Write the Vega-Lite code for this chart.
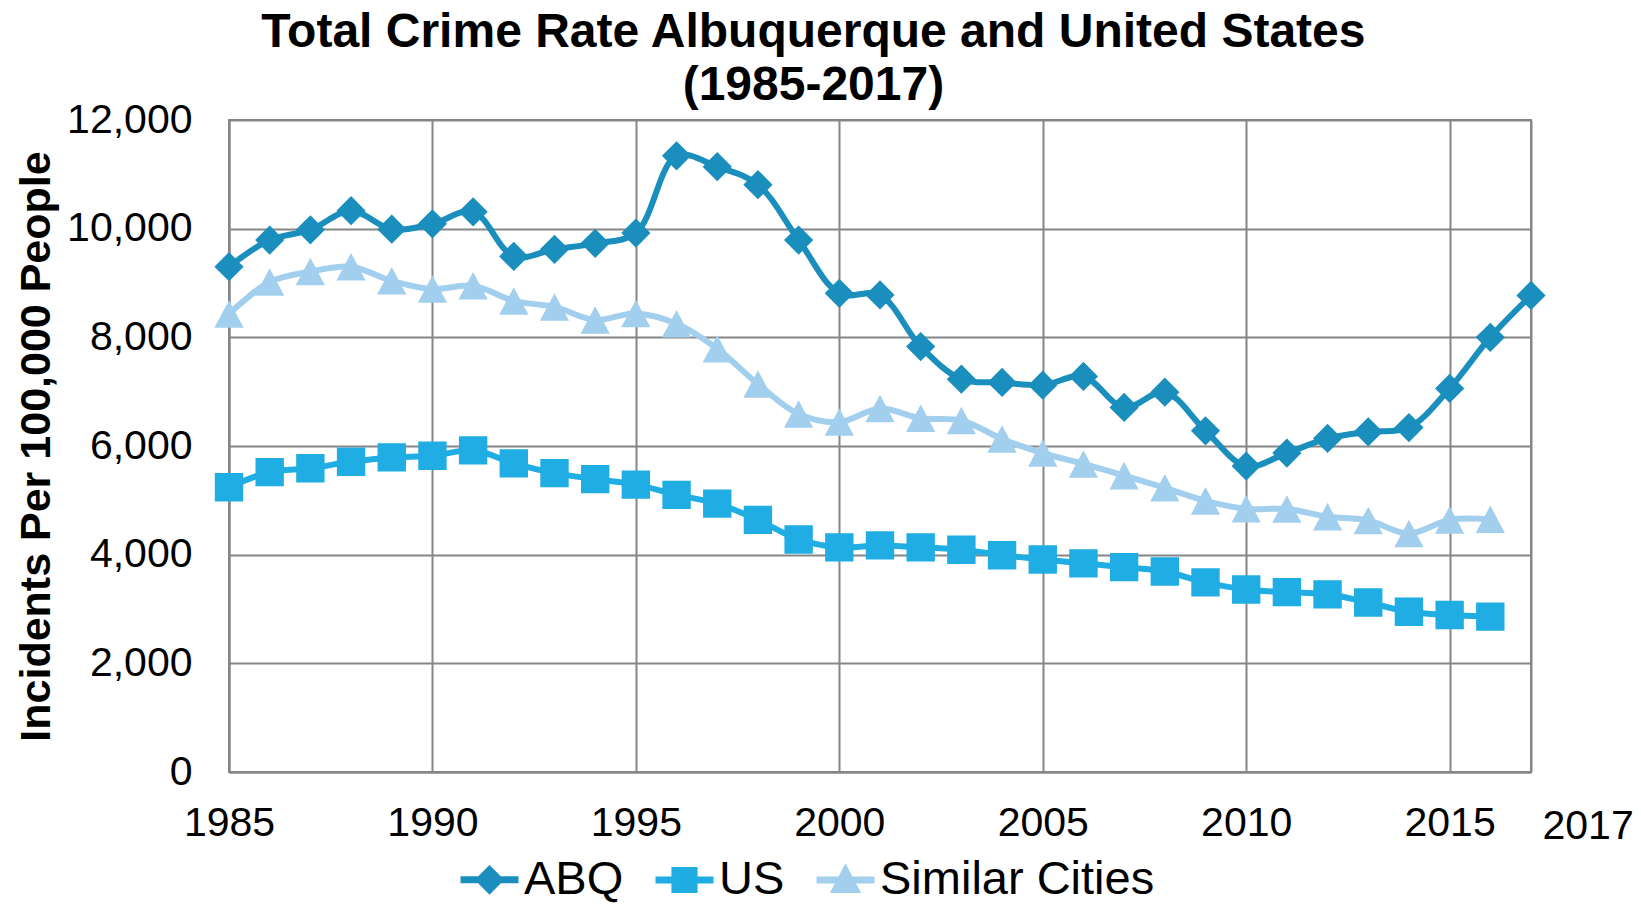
{
  "$schema": "https://vega.github.io/schema/vega-lite/v6.json",
  "width": 1302,
  "height": 652,
  "autosize": {"type": "pad"},
  "padding": {"left": 15, "top": 9, "right": 0, "bottom": 0},
  "background": "white",
  "config": {
    "font": "Liberation Sans",
    "view": {"stroke": "#868686", "strokeWidth": 2}
  },
  "title": {
    "text": ["Total Crime Rate Albuquerque and United States", "(1985-2017)"],
    "font": "Liberation Sans",
    "fontSize": 48,
    "fontWeight": "bold",
    "color": "black",
    "lineHeight": 53,
    "anchor": "middle",
    "frame": "bounds",
    "dx": -11,
    "offset": -11
  },
  "data": {
    "values": [
      {"year": 1985, "series": "ABQ", "value": 9300},
      {"year": 1986, "series": "ABQ", "value": 9790},
      {"year": 1987, "series": "ABQ", "value": 9980},
      {"year": 1988, "series": "ABQ", "value": 10330},
      {"year": 1989, "series": "ABQ", "value": 9990},
      {"year": 1990, "series": "ABQ", "value": 10090},
      {"year": 1991, "series": "ABQ", "value": 10310},
      {"year": 1992, "series": "ABQ", "value": 9490},
      {"year": 1993, "series": "ABQ", "value": 9620},
      {"year": 1994, "series": "ABQ", "value": 9730},
      {"year": 1995, "series": "ABQ", "value": 9920},
      {"year": 1996, "series": "ABQ", "value": 11340},
      {"year": 1997, "series": "ABQ", "value": 11140},
      {"year": 1998, "series": "ABQ", "value": 10810},
      {"year": 1999, "series": "ABQ", "value": 9790},
      {"year": 2000, "series": "ABQ", "value": 8810},
      {"year": 2001, "series": "ABQ", "value": 8780},
      {"year": 2002, "series": "ABQ", "value": 7830},
      {"year": 2003, "series": "ABQ", "value": 7230},
      {"year": 2004, "series": "ABQ", "value": 7170},
      {"year": 2005, "series": "ABQ", "value": 7120},
      {"year": 2006, "series": "ABQ", "value": 7280},
      {"year": 2007, "series": "ABQ", "value": 6710},
      {"year": 2008, "series": "ABQ", "value": 6990},
      {"year": 2009, "series": "ABQ", "value": 6280},
      {"year": 2010, "series": "ABQ", "value": 5630},
      {"year": 2011, "series": "ABQ", "value": 5870},
      {"year": 2012, "series": "ABQ", "value": 6140},
      {"year": 2013, "series": "ABQ", "value": 6260},
      {"year": 2014, "series": "ABQ", "value": 6340},
      {"year": 2015, "series": "ABQ", "value": 7060},
      {"year": 2016, "series": "ABQ", "value": 8000},
      {"year": 2017, "series": "ABQ", "value": 8770},
      {"year": 1985, "series": "US", "value": 5240},
      {"year": 1986, "series": "US", "value": 5520},
      {"year": 1987, "series": "US", "value": 5590},
      {"year": 1988, "series": "US", "value": 5710},
      {"year": 1989, "series": "US", "value": 5790},
      {"year": 1990, "series": "US", "value": 5820},
      {"year": 1991, "series": "US", "value": 5920},
      {"year": 1992, "series": "US", "value": 5680},
      {"year": 1993, "series": "US", "value": 5500},
      {"year": 1994, "series": "US", "value": 5390},
      {"year": 1995, "series": "US", "value": 5290},
      {"year": 1996, "series": "US", "value": 5100},
      {"year": 1997, "series": "US", "value": 4940},
      {"year": 1998, "series": "US", "value": 4640},
      {"year": 1999, "series": "US", "value": 4280},
      {"year": 2000, "series": "US", "value": 4135},
      {"year": 2001, "series": "US", "value": 4170},
      {"year": 2002, "series": "US", "value": 4135},
      {"year": 2003, "series": "US", "value": 4090},
      {"year": 2004, "series": "US", "value": 3990},
      {"year": 2005, "series": "US", "value": 3910},
      {"year": 2006, "series": "US", "value": 3840},
      {"year": 2007, "series": "US", "value": 3770},
      {"year": 2008, "series": "US", "value": 3690},
      {"year": 2009, "series": "US", "value": 3490},
      {"year": 2010, "series": "US", "value": 3360},
      {"year": 2011, "series": "US", "value": 3310},
      {"year": 2012, "series": "US", "value": 3270},
      {"year": 2013, "series": "US", "value": 3120},
      {"year": 2014, "series": "US", "value": 2950},
      {"year": 2015, "series": "US", "value": 2890},
      {"year": 2016, "series": "US", "value": 2860},
      {"year": 1985, "series": "Similar Cities", "value": 8430},
      {"year": 1986, "series": "Similar Cities", "value": 9020},
      {"year": 1987, "series": "Similar Cities", "value": 9210},
      {"year": 1988, "series": "Similar Cities", "value": 9300},
      {"year": 1989, "series": "Similar Cities", "value": 9040},
      {"year": 1990, "series": "Similar Cities", "value": 8890},
      {"year": 1991, "series": "Similar Cities", "value": 8950},
      {"year": 1992, "series": "Similar Cities", "value": 8670},
      {"year": 1993, "series": "Similar Cities", "value": 8560},
      {"year": 1994, "series": "Similar Cities", "value": 8320},
      {"year": 1995, "series": "Similar Cities", "value": 8440},
      {"year": 1996, "series": "Similar Cities", "value": 8250},
      {"year": 1997, "series": "Similar Cities", "value": 7790},
      {"year": 1998, "series": "Similar Cities", "value": 7140},
      {"year": 1999, "series": "Similar Cities", "value": 6590},
      {"year": 2000, "series": "Similar Cities", "value": 6440},
      {"year": 2001, "series": "Similar Cities", "value": 6690},
      {"year": 2002, "series": "Similar Cities", "value": 6510},
      {"year": 2003, "series": "Similar Cities", "value": 6470},
      {"year": 2004, "series": "Similar Cities", "value": 6130},
      {"year": 2005, "series": "Similar Cities", "value": 5870},
      {"year": 2006, "series": "Similar Cities", "value": 5670},
      {"year": 2007, "series": "Similar Cities", "value": 5455},
      {"year": 2008, "series": "Similar Cities", "value": 5230},
      {"year": 2009, "series": "Similar Cities", "value": 4990},
      {"year": 2010, "series": "Similar Cities", "value": 4845},
      {"year": 2011, "series": "Similar Cities", "value": 4840},
      {"year": 2012, "series": "Similar Cities", "value": 4700},
      {"year": 2013, "series": "Similar Cities", "value": 4630},
      {"year": 2014, "series": "Similar Cities", "value": 4390},
      {"year": 2015, "series": "Similar Cities", "value": 4640},
      {"year": 2016, "series": "Similar Cities", "value": 4650}
    ]
  },
  "encoding": {
    "x": {
      "field": "year",
      "type": "quantitative",
      "scale": {"domain": [1985, 2017], "nice": false, "zero": false},
      "axis": {
        "title": null,
        "values": [1985, 1990, 1995, 2000, 2005, 2010, 2015, 2017],
        "format": "d",
        "labelFont": "Liberation Sans",
        "labelFontSize": 41,
        "labelColor": "black",
        "labelPadding": {"condition": {"test": "datum.value === 2017", "value": 34}, "value": 31},
        "labelAlign": {"condition": {"test": "datum.value === 2017", "value": "left"}, "value": "center"},
        "labelOffset": {"condition": {"test": "datum.value === 2017", "value": 11}, "value": 0},
        "labelOverlap": false,
        "labelFlush": false,
        "ticks": false,
        "tickSize": 0,
        "grid": true,
        "gridColor": "#868686",
        "gridWidth": 2,
        "domainColor": "#868686",
        "domainWidth": 2
      }
    },
    "y": {
      "field": "value",
      "type": "quantitative",
      "scale": {"domain": [0, 12000], "nice": false},
      "axis": {
        "title": "Incidents Per 100,000 People",
        "titleFont": "Liberation Sans",
        "titleFontSize": 43,
        "titleFontWeight": "bold",
        "titleColor": "black",
        "titlePadding": 8,
        "values": [0, 2000, 4000, 6000, 8000, 10000, 12000],
        "format": ",.0f",
        "labelFont": "Liberation Sans",
        "labelFontSize": 41,
        "labelColor": "black",
        "labelPadding": 37,
        "ticks": false,
        "tickSize": 0,
        "grid": true,
        "gridColor": "#868686",
        "gridWidth": 2,
        "domainColor": "#868686",
        "domainWidth": 2
      }
    }
  },
  "layer": [
    {
      "transform": [{"filter": "datum.series === 'ABQ'"}],
      "mark": {"type": "line", "strokeWidth": 6, "interpolate": "catmull-rom", "color": "#1a8fbd"},
      "encoding": {}
    },
    {
      "transform": [{"filter": "datum.series === 'US'"}],
      "mark": {"type": "line", "strokeWidth": 6, "interpolate": "catmull-rom", "color": "#1fade3"},
      "encoding": {}
    },
    {
      "transform": [{"filter": "datum.series === 'Similar Cities'"}],
      "mark": {"type": "line", "strokeWidth": 6, "interpolate": "catmull-rom", "color": "#a3cfee"},
      "encoding": {}
    },
    {
      "mark": {"type": "point", "filled": true, "opacity": 1, "size": 7400},
      "encoding": {
        "color": {
          "field": "series",
          "type": "nominal",
          "scale": {"domain": ["ABQ", "US", "Similar Cities"], "range": ["#1a8fbd", "#1fade3", "#a3cfee"]},
          "legend": {
            "title": null,
            "orient": "none",
            "legendX": 228,
            "legendY": 727,
            "direction": "horizontal",
            "labelFont": "Liberation Sans",
            "labelFontSize": 47,
            "labelColor": "black",
            "labelLimit": 500,
            "labelOffset": 2,
            "columnPadding": 17,
            "symbolSize": 3364,
            "symbolOpacity": 1,
            "symbolStrokeWidth": 7
          }
        },
        "stroke": {
          "field": "series",
          "type": "nominal",
          "scale": {"domain": ["ABQ", "US", "Similar Cities"], "range": ["#1a8fbd", "#1fade3", "#a3cfee"]},
          "legend": {
            "title": null,
            "orient": "none",
            "legendX": 228,
            "legendY": 727,
            "direction": "horizontal",
            "labelFont": "Liberation Sans",
            "labelFontSize": 47,
            "labelColor": "black",
            "labelLimit": 500,
            "labelOffset": 2,
            "columnPadding": 17,
            "symbolSize": 3364,
            "symbolOpacity": 1,
            "symbolStrokeWidth": 7
          }
        },
        "strokeWidth": {"value": 0},
        "shape": {
          "field": "series",
          "type": "nominal",
          "scale": {
            "domain": ["ABQ", "US", "Similar Cities"],
            "range": [
              "M-1,0H1M0,-0.34L0.34,0L0,0.34L-0.34,0Z",
              "M-1,0H1M-0.33,-0.33H0.33V0.33H-0.33Z",
              "M-1,0H1M0,-0.32L0.34,0.32H-0.34Z"
            ]
          },
          "legend": {
            "title": null,
            "orient": "none",
            "legendX": 228,
            "legendY": 727,
            "direction": "horizontal",
            "labelFont": "Liberation Sans",
            "labelFontSize": 47,
            "labelColor": "black",
            "labelLimit": 500,
            "labelOffset": 2,
            "columnPadding": 17,
            "symbolSize": 3364,
            "symbolOpacity": 1,
            "symbolStrokeWidth": 7
          }
        }
      }
    }
  ]
}
